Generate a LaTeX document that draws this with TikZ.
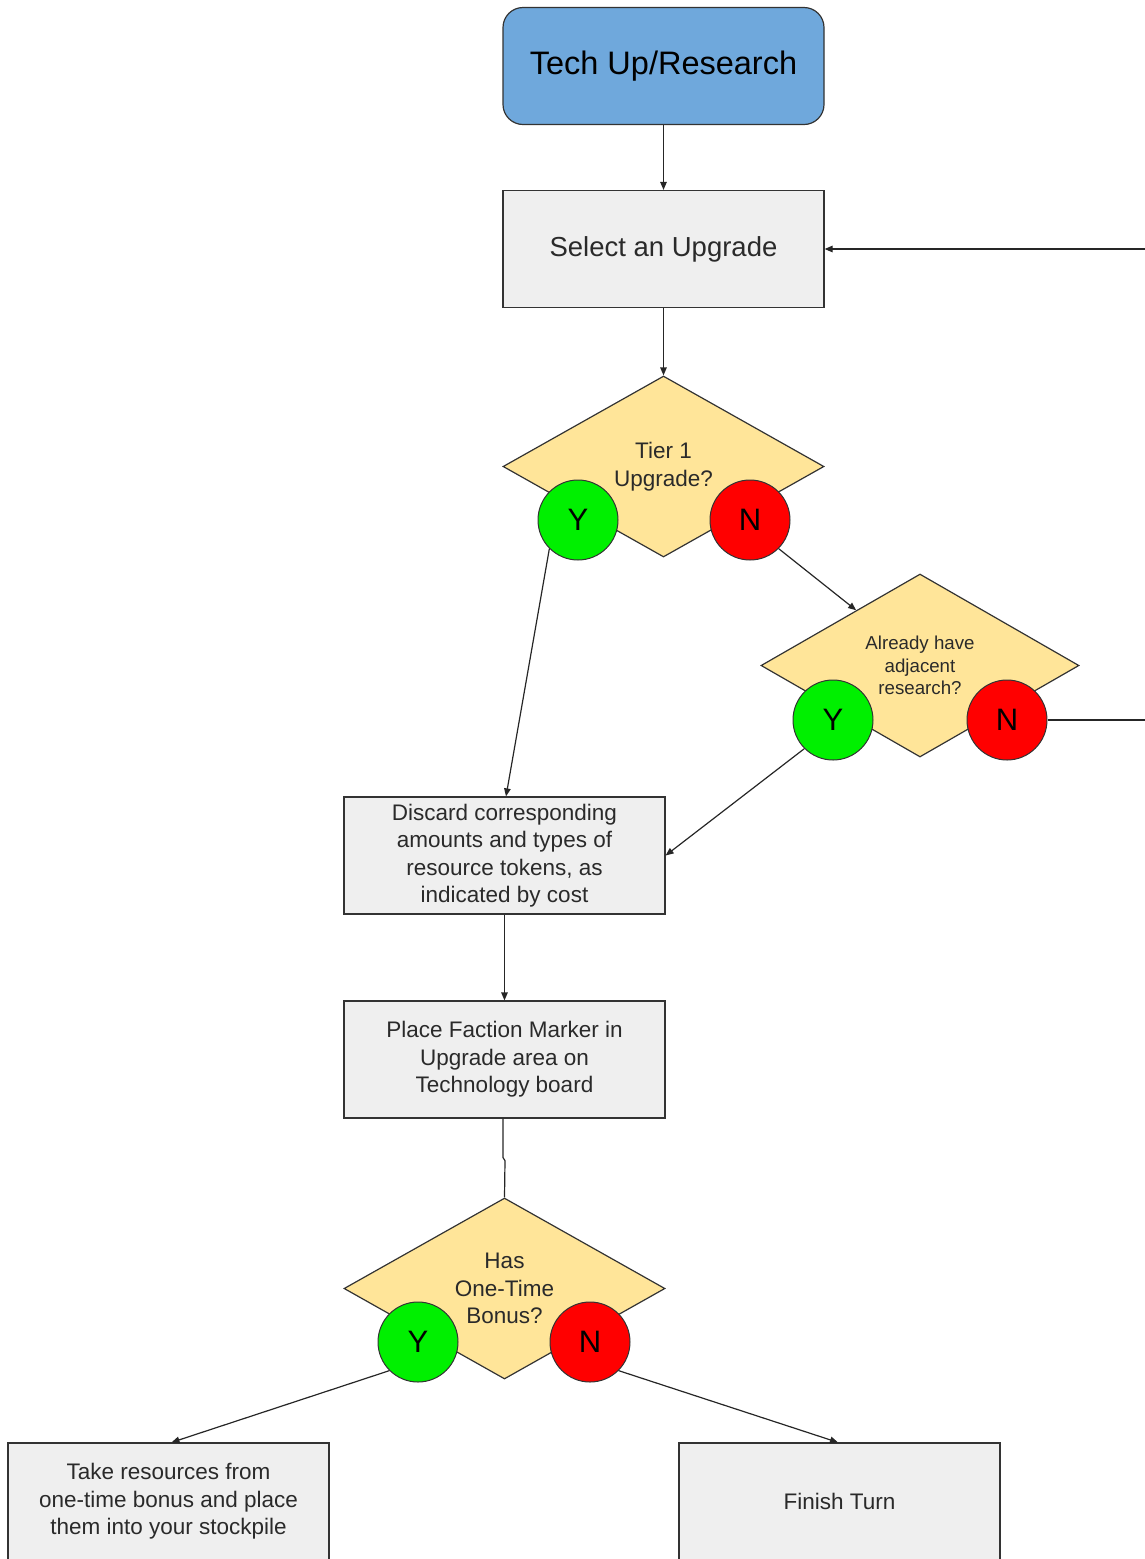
\documentclass[tikz,border=0pt]{standalone}
\usepackage{fontspec}
\setmainfont{Liberation Sans}
\usetikzlibrary{shapes.geometric,arrows.meta,calc}

\definecolor{startblue}{HTML}{6FA8DC}
\definecolor{stepgrey}{HTML}{EFEFEF}
\definecolor{askyellow}{HTML}{FFE599}
\definecolor{yesgreen}{HTML}{00F000}
\definecolor{nored}{HTML}{FF0000}
\definecolor{edgegrey}{HTML}{333333}
\definecolor{labelgrey}{HTML}{2A2A2A}

\begin{document}
\begin{tikzpicture}[x=1pt,y=-1pt,
  stepbox/.style={draw=edgegrey, line width=1.2pt, fill=stepgrey,
    minimum width=321pt, minimum height=117pt, inner sep=0pt,
    align=center, text=labelgrey},
  startbox/.style={stepbox, fill=startblue, rounded corners=20pt, text=black},
  askbox/.style={diamond, draw=edgegrey, line width=1.2pt, fill=askyellow,
    minimum width=321pt, minimum height=181pt, inner sep=0pt,
    align=center, text=labelgrey},
  yesdot/.style={circle, draw=edgegrey, line width=1pt, fill=yesgreen,
    minimum size=80pt, inner sep=0pt, font=\fontsize{31}{31}\selectfont},
  nodot/.style={yesdot, fill=nored},
  flow/.style={draw=black!85, line width=1.2pt,
    -{Triangle[length=8pt,width=6.5pt]}},
  wire/.style={draw=black!85, line width=1.2pt},
  bigtext/.style={font=\fontsize{32.5}{38}\selectfont},
  midtext/.style={font=\fontsize{27.5}{32}\selectfont},
  bodytext/.style={font=\fontsize{22.5}{27.5}\selectfont},
  smalltext/.style={font=\fontsize{18.7}{22.5}\selectfont}
]
\useasboundingbox (0,0) rectangle (1145,1559);

% process steps
\node[startbox, bigtext] (tech) at (663.5,66) {Tech Up/Research};
\node[stepbox, midtext] (select) at (663.5,249) {Select an Upgrade};
\node[stepbox, bodytext] (discard) at (504.5,855.5)
  {Discard corresponding\\amounts and types of\\resource tokens, as\\indicated by cost};
\node[stepbox, bodytext] (place) at (504.5,1059.5)
  {Place Faction Marker in\\Upgrade area on\\Technology board};
\node[stepbox, bodytext] (take) at (168.5,1501.5)
  {Take resources from\\one-time bonus and place\\them into your stockpile};
\node[stepbox, bodytext] (finish) at (839.5,1501.5) {Finish Turn};

% decisions
\node[askbox, bodytext] (tier) at (663.5,466.5) {Tier 1\\Upgrade?};
\node[askbox, smalltext, minimum width=318pt, minimum height=183pt] (adj) at (920,665.5)
  {Already have\\adjacent\\research?};
\node[askbox, bodytext] (bonus) at (504.5,1288.5) {Has\\One-Time\\Bonus?};

% yes / no markers
\node[yesdot] (y1) at (578,520) {Y};
\node[nodot]  (n1) at (750,520) {N};
\node[yesdot] (y2) at (833,720) {Y};
\node[nodot]  (n2) at (1007,720) {N};
\node[yesdot] (y3) at (418,1342) {Y};
\node[nodot]  (n3) at (590,1342) {N};

% loose ends at the right margin
\coordinate (loopin) at (1145,249);
\coordinate (loopout) at (1145,720);

% connectors
\draw[flow] (tech) -- (select);
\draw[flow] (select) -- (tier);
\draw[flow] (loopin) -- (select.east);
\draw[flow] (y1.south west) -- ([xshift=1.5pt]discard.north);
\draw[flow] (n1.south east) -- ($(adj.west)!0.6!(adj.north)$);
\draw[flow] (y2.south west) -- (discard.east);
\draw[wire] (n2.east) -- (loopout);
\draw[flow] (discard) -- (place);
\draw[wire] ([xshift=-1.5pt]place.south) -- ++(0,39) -- ++(2,3) -- (bonus.north);
\draw[flow] (y3.south west) -- ([xshift=3pt]take.north);
\draw[flow] (n3.south east) -- ([xshift=-1.5pt]finish.north);
\end{tikzpicture}
\end{document}
